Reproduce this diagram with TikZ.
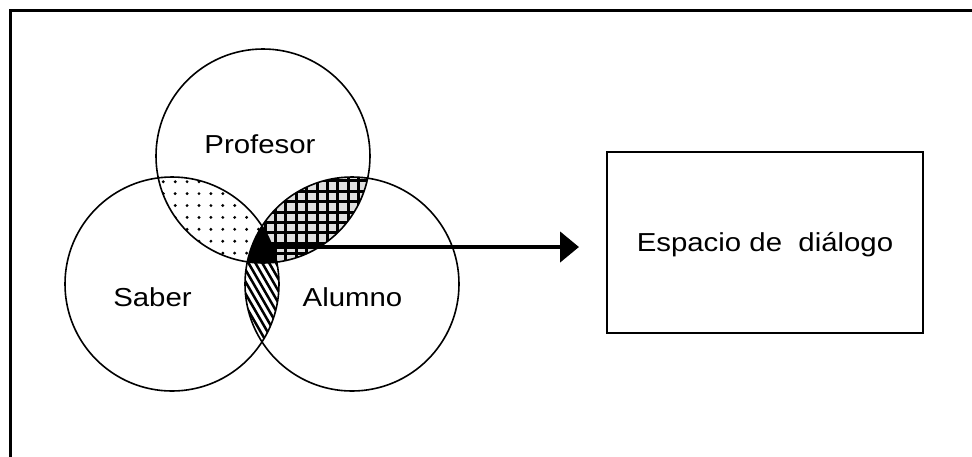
\documentclass[tikz,border=0pt]{standalone}
\usepackage{fontspec}
\setmainfont{Liberation Sans}[FakeStretch=1.13]
\usetikzlibrary{arrows.meta}
\begin{document}
\begin{tikzpicture}[x=1pt,y=-1pt,
  ring/.style={circle, draw, line width=1.6pt, minimum size=214pt, inner sep=0pt},
  lbl/.style={anchor=base, inner sep=0pt, font=\fontsize{26}{30}\selectfont},
  boxnode/.style={draw, line width=1.7pt, minimum width=316pt, minimum height=181pt, inner sep=0pt},
  gridline/.style={line width=3pt},
  stripe/.style={line width=2.5pt}]
\useasboundingbox (0,0) rectangle (972,456);
\clip (0,0) rectangle (972,456);
\draw[line width=3pt] (10.4,10.4) rectangle (1000,480);
% dotted region: Saber and Profesor
\begin{scope}
  \clip (172,284) circle[radius=107];
  \clip (263,156) circle[radius=107];
  \foreach \i in {0,...,10}{
    \foreach \j in {0,...,9}{
      \fill ({151.4+11.9*\i},{169.8+11.9*\j}) circle[radius=1.6];
    }
  }
\end{scope}
% striped region: Saber and Alumno
\begin{scope}
  \clip (172,284) circle[radius=107];
  \clip (352,284) circle[radius=107];
  \foreach \i in {0,...,30}{
    \draw[stripe] ({150+6.9*\i},200) -- ({150+6.9*\i+92.4},360);
  }
\end{scope}
% grid region: Profesor and Alumno
\begin{scope}
  \clip (263,156) circle[radius=107];
  \clip (352,284) circle[radius=107];
  \fill[gray!25] (0,0) rectangle (500,456);
  \foreach \i in {0,...,14}{
    \draw[gridline] ({244.3+10.4*\i},150) -- ({244.3+10.4*\i},280);
    \draw[gridline] (240,{160+10.4*\i}) -- (390,{160+10.4*\i});
  }
\end{scope}
% black: all three
\begin{scope}
  \clip (172,284) circle[radius=107];
  \clip (352,284) circle[radius=107];
  \clip (263,156) circle[radius=107];
  \fill[black] (0,0) rectangle (500,456);
\end{scope}
% circles
\node[ring] (prof) at (263,156) {};
\node[ring] (sab) at (172,284) {};
\node[ring] (alu) at (352,284) {};
\node[lbl] (lprof) at (260,153.3) {Profesor};
\node[lbl] (lsab) at (152.5,306.7) {Saber};
\node[lbl] (lalu) at (352.5,306.7) {Alumno};
% box
\node[boxnode] (box) at (765,242.5) {};
\node[lbl] (lbox) at (765,251) {Espacio de\ \ diálogo};
% arrow
\coordinate (t) at (266,247);
\coordinate (tip) at (579,247);
\draw[line width=4.6pt, -{Triangle[length=19pt,width=30pt]}] (t) -- (tip);
\end{tikzpicture}
\end{document}
